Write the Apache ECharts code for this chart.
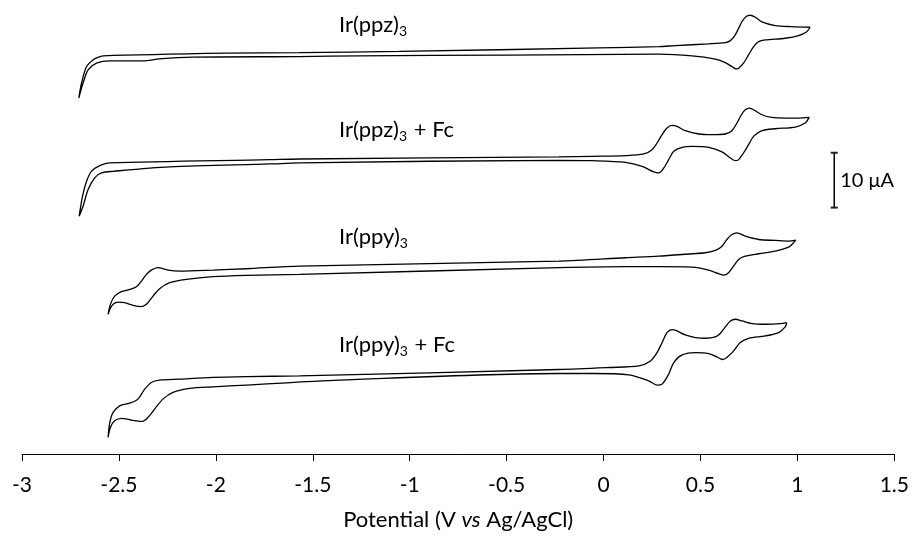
<!DOCTYPE html>
<html>
<head>
<meta charset="utf-8">
<script src="https://cdn.jsdelivr.net/npm/echarts@6/dist/echarts.min.js"></script>
<style>
  html, body { margin: 0; padding: 0; background: #fff; }
  #chart { width: 912px; height: 536px; }
</style>
</head>
<body>
<div id="chart"></div>
<script>
// potential (V vs Ag/AgCl), current (uA, curves stacked with offsets)
// each loop: right vertex -> upper branch -> left vertex -> lower branch -> back
var ppz = [
    [1.066, 77.76], [0.971, 77.87], [0.886, 78.05], [0.817, 78.73], [0.783, 79.58],
    [0.757, 79.95], [0.734, 79.69], [0.714, 78.78], [0.697, 77.58], [0.676, 76.18],
    [0.654, 75.33], [0.628, 74.96], [0.542, 74.73], [0.371, 74.42], [0.285, 74.24],
    [-0.024, 74.0], [-1.054, 73.36], [-1.569, 73.15], [-1.947, 73.04], [-2.582, 72.55],
    [-2.609, 72.27], [-2.633, 71.82], [-2.667, 70.6], [-2.693, 67.58], [-2.707, 64.85],
    [-2.685, 67.58], [-2.659, 70.0], [-2.616, 71.22], [-2.547, 71.64], [-2.376, 71.64],
    [-2.290, 72.0], [-2.118, 72.31], [-1.569, 72.42], [-1.260, 72.55], [-0.5, 72.7],
    [0.285, 72.85], [0.456, 72.55], [0.577, 71.95], [0.628, 71.33], [0.662, 70.6],
    [0.683, 70.18], [0.697, 70.31], [0.722, 71.22], [0.748, 72.73], [0.774, 74.24],
    [0.800, 75.15], [0.834, 75.45], [0.937, 75.76], [1.006, 76.24], [1.048, 76.96],
    [1.066, 77.76]
];
var ppzFc = [
    [1.061, 61.33], [1.006, 61.22], [0.937, 61.22], [0.868, 61.33], [0.817, 61.82],
    [0.783, 62.55], [0.752, 63.04], [0.731, 62.73], [0.711, 61.82], [0.688, 60.31],
    [0.662, 58.91], [0.628, 58.31], [0.559, 58.18], [0.491, 58.31], [0.422, 58.91],
    [0.379, 59.69], [0.353, 59.87], [0.327, 59.4], [0.302, 58.18], [0.276, 56.67],
    [0.250, 55.45], [0.208, 54.67], [0.113, 54.36], [-0.059, 54.24], [-0.230, 54.13],
    [-1.569, 53.76], [-1.724, 53.64], [-2.547, 53.04], [-2.599, 52.55], [-2.642, 51.51],
    [-2.667, 49.69], [-2.688, 46.96], [-2.705, 43.33],
    [-2.685, 45.15], [-2.659, 48.18], [-2.625, 50.31], [-2.590, 51.22], [-2.530, 51.51],
    [-2.238, 52.31], [-1.724, 52.85], [-1.569, 53.04], [-0.230, 53.51], [-0.059, 53.45],
    [0.113, 53.15], [0.199, 52.42], [0.259, 51.4], [0.285, 51.22], [0.311, 52.13],
    [0.336, 53.64], [0.362, 55.15], [0.405, 55.87], [0.456, 56.05], [0.542, 55.87],
    [0.611, 55.04], [0.654, 53.95], [0.680, 53.45], [0.697, 53.64], [0.722, 54.85],
    [0.748, 56.36], [0.774, 57.87], [0.817, 58.91], [0.886, 59.27], [0.989, 59.58],
    [1.040, 60.31], [1.061, 61.33]
];
var ppy = [
    [0.992, 38.96], [0.954, 38.78], [0.886, 38.91], [0.800, 39.09], [0.731, 39.69],
    [0.688, 40.31], [0.662, 40.0], [0.636, 39.09], [0.611, 37.87], [0.577, 37.09],
    [0.525, 36.67], [0.456, 36.49], [0.285, 36.05], [0.113, 35.76], [-0.230, 35.15],
    [-1.569, 34.24], [-1.843, 33.76], [-2.015, 33.51], [-2.187, 33.33], [-2.247, 33.51],
    [-2.299, 33.95], [-2.333, 33.51], [-2.358, 32.73], [-2.384, 31.51], [-2.410, 30.49],
    [-2.444, 30.0], [-2.487, 29.58], [-2.522, 28.78], [-2.544, 27.27], [-2.556, 25.45],
    [-2.547, 26.36], [-2.530, 27.27], [-2.505, 27.69], [-2.470, 27.58], [-2.427, 27.09],
    [-2.384, 26.85], [-2.358, 27.27], [-2.324, 28.78], [-2.290, 30.13], [-2.238, 31.22],
    [-2.152, 31.82], [-2.015, 32.31], [-1.843, 32.55], [-1.569, 32.73], [-0.230, 33.95],
    [0.113, 34.13], [0.285, 34.13], [0.456, 34.05], [0.542, 33.51], [0.594, 32.85],
    [0.619, 32.6], [0.645, 33.04], [0.671, 34.24], [0.697, 35.45], [0.731, 36.05],
    [0.800, 36.49], [0.886, 36.96], [0.954, 37.69], [0.980, 38.49], [0.992, 38.96]
];
var ppyFc = [
    [0.945, 23.95], [0.911, 23.76], [0.834, 23.64], [0.765, 23.76], [0.714, 24.24],
    [0.680, 24.55], [0.654, 24.24], [0.628, 23.15], [0.602, 21.95], [0.577, 21.33],
    [0.525, 21.09], [0.474, 21.22], [0.422, 21.69], [0.379, 22.42], [0.353, 22.67],
    [0.327, 22.13], [0.302, 20.31], [0.276, 18.49], [0.242, 16.96], [0.182, 16.05],
    [0.027, 15.76], [-0.230, 15.4], [-1.569, 14.24], [-1.843, 14.1], [-2.015, 13.95],
    [-2.187, 13.64], [-2.290, 13.45], [-2.333, 13.04], [-2.367, 11.82], [-2.402, 10.0],
    [-2.444, 9.27], [-2.496, 8.78], [-2.530, 7.58], [-2.547, 5.76], [-2.556, 3.04],
    [-2.544, 4.85], [-2.522, 6.05], [-2.487, 6.49], [-2.444, 6.24], [-2.410, 6.05],
    [-2.379, 5.95], [-2.350, 6.67], [-2.316, 8.18], [-2.273, 10.0], [-2.221, 11.22],
    [-2.135, 11.95], [-2.015, 12.24], [-1.843, 12.55], [-1.363, 13.45], [-0.230, 14.67],
    [-0.059, 14.67], [0.130, 14.42], [0.233, 13.33], [0.276, 12.55], [0.302, 12.73],
    [0.336, 14.55], [0.362, 16.67], [0.405, 18.05], [0.474, 18.49], [0.542, 18.31],
    [0.585, 17.69], [0.614, 17.22], [0.636, 17.58], [0.671, 18.78], [0.705, 20.31],
    [0.748, 21.09], [0.834, 21.51], [0.903, 22.13], [0.937, 23.15], [0.945, 23.95]
];
// 10 uA scale bar
var scaleBar = [[1.19, 44.9], [1.19, 54.9]];
var scaleText = '10 μA';

var curves = [ppz, ppzFc, ppy, ppyFc];
var curveNames = ['Ir(ppz)', 'Ir(ppz)', 'Ir(ppy)', 'Ir(ppy)'];
var curveSuffix = ['', ' + Fc', '', ' + Fc'];

var chart = echarts.init(document.getElementById('chart'));

var series = curves.map(function(d, i) {
    return {
        type: 'line',
        name: curveNames[i] + '3' + curveSuffix[i],
        data: d,
        showSymbol: false,
        symbol: 'none',
        smooth: 0.3,
        lineStyle: { color: '#000', width: 1.3 }
    };
});
series.push({
    type: 'line',
    data: scaleBar,
    symbol: 'rect',
    symbolSize: [7, 2],
    itemStyle: { color: '#222' },
    lineStyle: { color: '#000', width: 1.5 }
});
series.push({
    type: 'scatter',
    data: [[scaleBar[0][0], (scaleBar[0][1] + scaleBar[1][1]) / 2]],
    symbolSize: 0,
    itemStyle: { opacity: 1 },
    label: {
        show: true,
        position: 'right',
        distance: 6,
        formatter: scaleText,
        color: '#000',
        opacity: 1,
        fontFamily: 'Lato',
        fontSize: 20
    }
});

// curve labels (pixel layout)
var labelTops = [14, 119, 226, 334];
var graphics = curves.map(function(d, i) {
    return {
        type: 'text',
        left: 339,
        top: labelTops[i],
        style: {
            text: '{a|' + curveNames[i] + '}{s|3}{a|' + curveSuffix[i] + '}',
            rich: {
                a: { fontFamily: 'Lato', fontSize: 22, fill: '#000' },
                s: { fontFamily: 'Lato', fontSize: 14, fill: '#000', padding: [12, 1, 0, 0] }
            }
        }
    };
});

chart.setOption({
    animation: false,
    backgroundColor: '#fff',
    grid: { left: 22, right: 16, top: 4, bottom: 81 },
    xAxis: {
        type: 'value',
        min: -3,
        max: 1.5,
        interval: 0.5,
        name: '{n|Potential (V }{i|vs}{n| Ag/AgCl)}',
        nameLocation: 'middle',
        nameGap: 55,
        nameTextStyle: {
            rich: {
                n: { fontFamily: 'Lato', fontSize: 22, color: '#000' },
                i: { fontFamily: 'Lato', fontSize: 22, color: '#000', fontStyle: 'italic' }
            }
        },
        axisLine: { lineStyle: { color: '#000', width: 1 } },
        axisTick: { show: true, length: 7, lineStyle: { color: '#000' } },
        axisLabel: { fontFamily: 'Lato', fontSize: 21, color: '#000', margin: 21 },
        splitLine: { show: false }
    },
    yAxis: {
        type: 'value',
        min: 0,
        max: 82,
        show: false
    },
    graphic: graphics,
    series: series
});
</script>
</body>
</html>
